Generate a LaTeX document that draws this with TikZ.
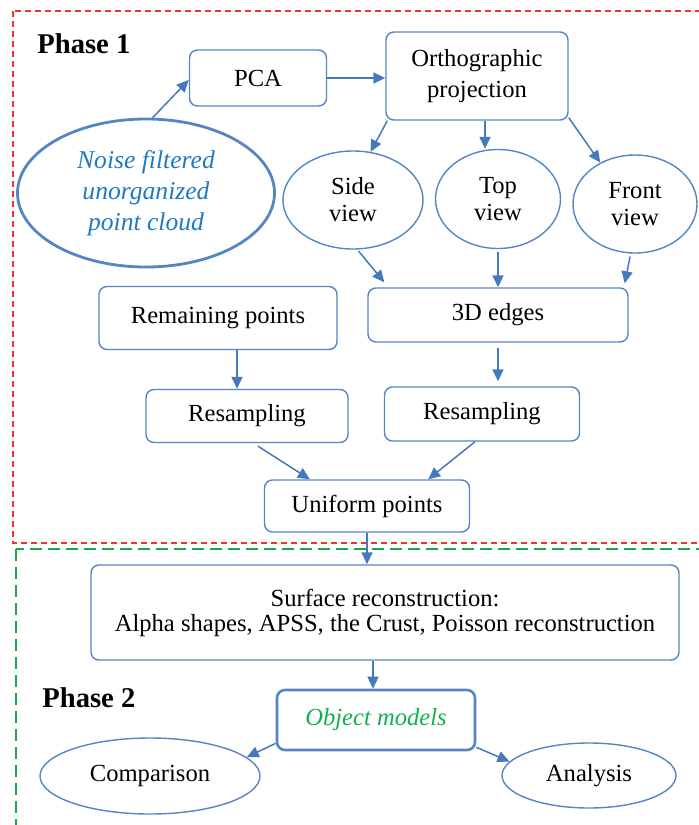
\documentclass[tikz,border=0pt]{standalone}
\usepackage{fontspec}
\setmainfont{Liberation Serif}
\usepackage{xcolor}
\usepackage{tikz}
\usetikzlibrary{arrows.meta,calc,positioning,shapes.geometric}

\definecolor{edgeblue}{RGB}{84,133,196}
\definecolor{flowblue}{RGB}{70,120,190}
\definecolor{noiseblue}{RGB}{30,120,200}
\definecolor{modelgreen}{RGB}{20,176,80}
\definecolor{phasered}{RGB}{240,50,50}
\definecolor{phasegreen}{RGB}{20,170,70}

\begin{document}
\begin{tikzpicture}[
    x=0.5pt,
    y=-0.5pt,
    font=\fontsize{12.3}{15.5}\selectfont,
    stage/.style={draw=edgeblue,line width=0.7pt,rounded corners=4pt,
                  align=center,inner sep=0pt},
    oval/.style={ellipse,draw=edgeblue,line width=0.7pt,align=center,
                 inner sep=0pt},
    flow/.style={-{Triangle[length=6pt,width=5.5pt]},draw=flowblue,
                 line width=0.75pt},
    phase/.style={font=\fontsize{14.3}{16}\selectfont\bfseries,
                  inner sep=0pt,anchor=west}
]

\useasboundingbox (0,0) rectangle (699,825);

% phase frames
\draw[phasered,line width=0.6pt,dash pattern=on 3pt off 2pt]
    (13,11) rectangle (710,543);
\draw[phasegreen,line width=0.6pt,dash pattern=on 6pt off 3pt]
    (16,549) rectangle (710,840);

\node[phase] (phaseA) at (37,44) {Phase 1};
\node[phase] (phaseB) at (42,698) {Phase 2};

% phase 1
\node[oval,line width=1.4pt,minimum width=128.5pt,minimum height=74pt,
      text=noiseblue,font=\fontsize{12.8}{15.5}\selectfont\itshape]
    (noise) at (146,193) {Noise filtered\\unorganized\\point cloud};
\node[stage,minimum width=68.5pt,minimum height=28pt] (pca) at (258,78) {PCA};
\node[stage,minimum width=91pt,minimum height=44pt] (ortho) at (477,76)
    {Orthographic\\projection};

\node[oval,minimum width=70pt,minimum height=49pt,
      font=\fontsize{12.3}{13.5}\selectfont] (side) at (353,200) {Side\\view};
\node[oval,minimum width=62.5pt,minimum height=49.5pt,
      font=\fontsize{12.3}{13.5}\selectfont] (top) at (498,199) {Top\\view};
\node[oval,minimum width=62pt,minimum height=49pt,
      font=\fontsize{12.3}{13.5}\selectfont] (front) at (635,204) {Front\\view};

\node[stage,minimum width=119pt,minimum height=31.5pt] (remaining) at (218,318)
    {Remaining points};
\node[stage,minimum width=130pt,minimum height=27pt] (edges) at (498,315)
    {3D edges};
\node[stage,minimum width=101pt,minimum height=26.5pt] (resampL) at (247,416)
    {Resampling};
\node[stage,minimum width=97.5pt,minimum height=27pt] (resampR) at (482,414)
    {Resampling};
\node[stage,minimum width=102.5pt,minimum height=26pt] (uniform) at (367,506)
    {Uniform points};

% phase 2
\node[stage,minimum width=294pt,minimum height=47.5pt,
      font=\fontsize{12.3}{12.5}\selectfont] (surface) at (385,612.5)
    {Surface reconstruction:\\Alpha shapes, APSS, the Crust, Poisson reconstruction};
\node[stage,line width=1.3pt,minimum width=99pt,minimum height=30pt,
      text=modelgreen,font=\fontsize{12.3}{15}\selectfont\itshape]
    (object) at (376,720) {Object models};
\node[oval,minimum width=110pt,minimum height=38pt] (comparison) at (150,776)
    {Comparison};
\node[oval,minimum width=87pt,minimum height=32.5pt] (analysis) at (589,775.5)
    {Analysis};

% connectors
\draw[flow] (noise.85) -- ([yshift=-1pt]pca.west);
\draw[flow] (pca.east) -- (pca.east -| ortho.west);
\draw[flow] ([xshift=1pt]ortho.south west) -- (side.70);
\draw[flow] ([xshift=4pt]ortho.south) -- ([xshift=4pt]ortho.south |- top.north);
\draw[flow] ([yshift=1.5pt]ortho.south east) -- (front.130);

\draw[flow,shorten <=1pt] (side.-85) -- ([xshift=8.5pt,yshift=2.5pt]edges.north west);
\draw[flow,shorten <=1.5pt] (top.south) -- (top.south |- edges.north);
\draw[flow,shorten <=1.5pt] (front.-95) -- ([xshift=-2pt,yshift=2pt]edges.north east);

\draw[flow] ([xshift=9.5pt]remaining.south) -- ([xshift=-5pt]resampL.north);
\draw[flow] ([yshift=-2.5pt]edges.south) -- ([xshift=8pt,yshift=2.5pt]resampR.north);
\draw[flow] ([xshift=5.5pt,yshift=-1.5pt]resampL.south) -- ([xshift=23pt]uniform.north west);
\draw[flow] ([xshift=-3.5pt]resampR.south) -- ([xshift=-21pt]uniform.north east);

\draw[flow] (uniform.south) -- (uniform.south |- surface.north);
\draw[flow] ([xshift=-1.5pt]object.north |- surface.south) -- ([xshift=-1.5pt]object.north);
\draw[flow] ([yshift=4pt]object.south west) -- (comparison.11);
\draw[flow] ([yshift=2pt]object.south east) -- (analysis.170);

\end{tikzpicture}
\end{document}
